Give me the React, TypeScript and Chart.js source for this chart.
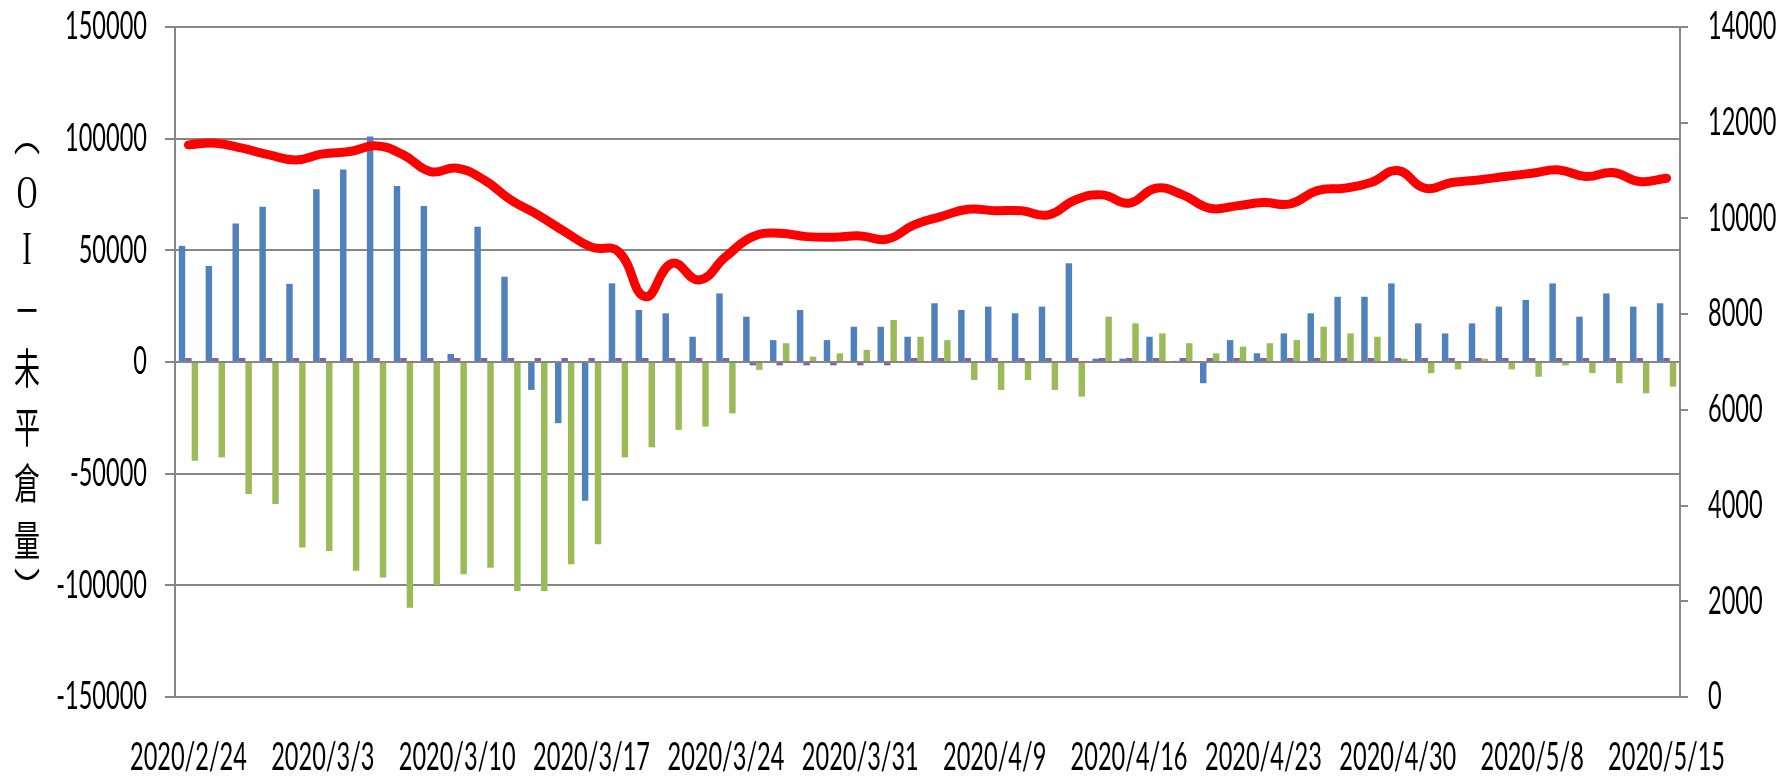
import React, { useEffect, useRef } from "react";
import { Chart, registerables } from "chart.js";

Chart.register(...registerables);

// ---- data ----
const dates = [
  "2020/2/24", "2020/2/25", "2020/2/26", "2020/2/27", "2020/3/2",
  "2020/3/3", "2020/3/4", "2020/3/5", "2020/3/6", "2020/3/9",
  "2020/3/10", "2020/3/11", "2020/3/12", "2020/3/13", "2020/3/16",
  "2020/3/17", "2020/3/18", "2020/3/19", "2020/3/20", "2020/3/23",
  "2020/3/24", "2020/3/25", "2020/3/26", "2020/3/27", "2020/3/30",
  "2020/3/31", "2020/4/1", "2020/4/6", "2020/4/7", "2020/4/8",
  "2020/4/9", "2020/4/10", "2020/4/13", "2020/4/14", "2020/4/15",
  "2020/4/16", "2020/4/17", "2020/4/20", "2020/4/21", "2020/4/22",
  "2020/4/23", "2020/4/24", "2020/4/27", "2020/4/28", "2020/4/29",
  "2020/4/30", "2020/5/4", "2020/5/5", "2020/5/6", "2020/5/7",
  "2020/5/8", "2020/5/11", "2020/5/12", "2020/5/13", "2020/5/14",
  "2020/5/15",
];

const blueSeries = [
  52000, 43000, 62000, 69500, 35000, 77300, 86200, 101000, 78800, 69800,
  3600, 60600, 38200, -12500, -27400, -62100, 35200, 23300, 21800, 11300,
  30700, 20300, 9800, 23300, 9800, 15800, 15800, 11300, 26300, 23300,
  24800, 21800, 24800, 44200, 1500, 1500, 11300, 500, -9500, 9800,
  3900, 12800, 21800, 29200, 29200, 35200, 17300, 12800, 17300, 24800,
  27800, 35200, 20300, 30700, 24800, 26300,
];

const purpleSeries = [
  1800, 1800, 1800, 1800, 1800, 1800, 1800, 1800, 1800, 1800,
  1800, 1800, 1800, 1800, 1800, 1800, 1800, 1800, 1800, 1800,
  1800, -1500, -1500, -1500, -1500, -1500, -1500, 1800, 1800, 1800,
  1800, 1800, 1800, 1800, 1800, 1800, 1800, 1800, 1800, 1800,
  1800, 1800, 1800, 1800, 1800, 1800, 1800, 1800, 1800, 1800,
  1800, 1800, 1800, 1800, 1800, 1800,
];

const greenSeries = [
  -44200, -42700, -59100, -63600, -83100, -84600, -93500, -96500, -110000, -99800,
  -95000, -92100, -102500, -102500, -90600, -81600, -42700, -38200, -30400, -28900,
  -23000, -3500, 8400, 2400, 3900, 5400, 18800, 11300, 9800, -8100,
  -12500, -8100, -12500, -15500, 20300, 17300, 12800, 8400, 3900, 6900,
  8400, 9800, 15800, 12800, 11300, 1500, -5000, -3300, 1500, -3300,
  -6600, -1500, -5000, -9500, -14000, -11000,
];

const indexSeries = [
  11537, 11572, 11467, 11328, 11223, 11349, 11397, 11516, 11328, 10979,
  11049, 10805, 10387, 10074, 9725, 9400, 9307, 8366, 9064, 8715,
  9202, 9620, 9691, 9620, 9607, 9635, 9566, 9865, 10038, 10192,
  10163, 10160, 10074, 10387, 10492, 10318, 10631, 10492, 10213, 10262,
  10331, 10304, 10582, 10631, 10749, 11000, 10631, 10750, 10805, 10875,
  10945, 11014, 10875, 10958, 10770, 10840,
];

const leftAxis = [-150000, 150000, 50000]; // min, max, step
const rightAxis = [0, 14000, 2000];
const xLabelEvery = 5;
const yTitleChars = ["︵", "O", "I", "－", "未", "平", "倉", "量", "︶"];

// ---- style ----
const GRID = "#868686";
const SQUASH = 0.62;
const LABEL_FONT = "38px Lato";
const CJK_FONT = '42px "Noto Sans CJK TC"';
const LATIN_FONT = '46px "Liberation Serif"';
// vertical offsets of each title character from the plot's middle
const titleOffsets = [-232, -171, -115, -57, 1, 60, 116, 173, 221];

const textPlugin = {
  id: "squashedText",
  afterDraw(chart: any) {
    const ctx = chart.ctx as CanvasRenderingContext2D;
    const sy = chart.scales.y;
    const sy1 = chart.scales.y1;
    const sx = chart.scales.x;
    const draw = (text: string, px: number, py: number, align: CanvasTextAlign) => {
      ctx.save();
      ctx.translate(px, py);
      ctx.scale(SQUASH, 1);
      ctx.textAlign = align;
      ctx.textBaseline = "middle";
      ctx.fillText(text, 0, 0);
      ctx.restore();
    };
    ctx.save();
    ctx.fillStyle = "#000000";
    ctx.font = LABEL_FONT;
    sy.ticks.forEach((t: any) => draw(String(t.value), sy.right - 28, sy.getPixelForValue(t.value), "right"));
    sy1.ticks.forEach((t: any) => draw(String(t.value), sy1.left + 28, sy1.getPixelForValue(t.value), "left"));
    (chart.data.labels as string[]).forEach((l, i) => {
      if (i % xLabelEvery === 0) draw(l, sx.getPixelForValue(i), sx.top + 61, "center");
    });
    const mid = (chart.chartArea.top + chart.chartArea.bottom) / 2 + 5;
    yTitleChars.forEach((c, i) => {
      ctx.font = /[A-Za-z]/.test(c) ? LATIN_FONT : CJK_FONT;
      draw(c, 27, mid + titleOffsets[i], "center");
    });
    ctx.restore();
  },
};

export default function App() {
  const ref = useRef<HTMLCanvasElement | null>(null);

  useEffect(() => {
    document.body.style.margin = "0";
    document.body.style.overflow = "hidden";
    const canvas = ref.current;
    if (!canvas) return;
    const chart = new Chart(canvas, {
      type: "bar",
      data: {
        labels: dates,
        datasets: [
          {
            type: "line",
            label: "指數",
            data: indexSeries,
            yAxisID: "y1",
            borderColor: "#FF0000",
            borderWidth: 9,
            pointRadius: 0,
            tension: 0.45,
            fill: false,
            borderCapStyle: "round",
            borderJoinStyle: "round",
            order: 0,
          } as any,
          {
            label: "A",
            data: blueSeries,
            backgroundColor: "#4F81BD",
            yAxisID: "y",
            order: 1,
          },
          {
            label: "B",
            data: purpleSeries,
            backgroundColor: "#8064A2",
            yAxisID: "y",
            order: 1,
          },
          {
            label: "C",
            data: greenSeries,
            backgroundColor: "#9BBB59",
            yAxisID: "y",
            order: 1,
          },
        ],
      },
      options: {
        responsive: false,
        animation: false,
        devicePixelRatio: 1,
        layout: { padding: { top: 27, left: 0, right: 0, bottom: 0 } },
        datasets: {
          bar: { categoryPercentage: 0.72, barPercentage: 1.0 },
        },
        plugins: {
          legend: { display: false },
          tooltip: { enabled: false },
          title: { display: false },
        },
        scales: {
          x: {
            grid: { display: false },
            border: { display: false },
            ticks: { display: false },
            afterFit: (s: any) => {
              s.height = 82;
            },
          },
          y: {
            position: "left",
            min: leftAxis[0],
            max: leftAxis[1],
            ticks: { stepSize: leftAxis[2], display: false },
            grid: { color: GRID, lineWidth: 2, tickLength: 10, drawTicks: true },
            border: { color: GRID, width: 2 },
            afterFit: (s: any) => {
              s.width = 175;
            },
          },
          y1: {
            position: "right",
            min: rightAxis[0],
            max: rightAxis[1],
            ticks: { stepSize: rightAxis[2], display: false },
            grid: { drawOnChartArea: false, color: GRID, lineWidth: 2, tickLength: 8, drawTicks: true },
            border: { color: GRID, width: 2 },
            afterFit: (s: any) => {
              s.width = 103;
            },
          },
        },
      } as any,
      plugins: [textPlugin],
    });
    return () => chart.destroy();
  }, []);

  return (
    <div style={{ position: "fixed", left: 0, top: 0, width: 1783, height: 779, background: "#fff" }}>
      <canvas ref={ref} width={1783} height={779} style={{ display: "block" }} />
    </div>
  );
}
